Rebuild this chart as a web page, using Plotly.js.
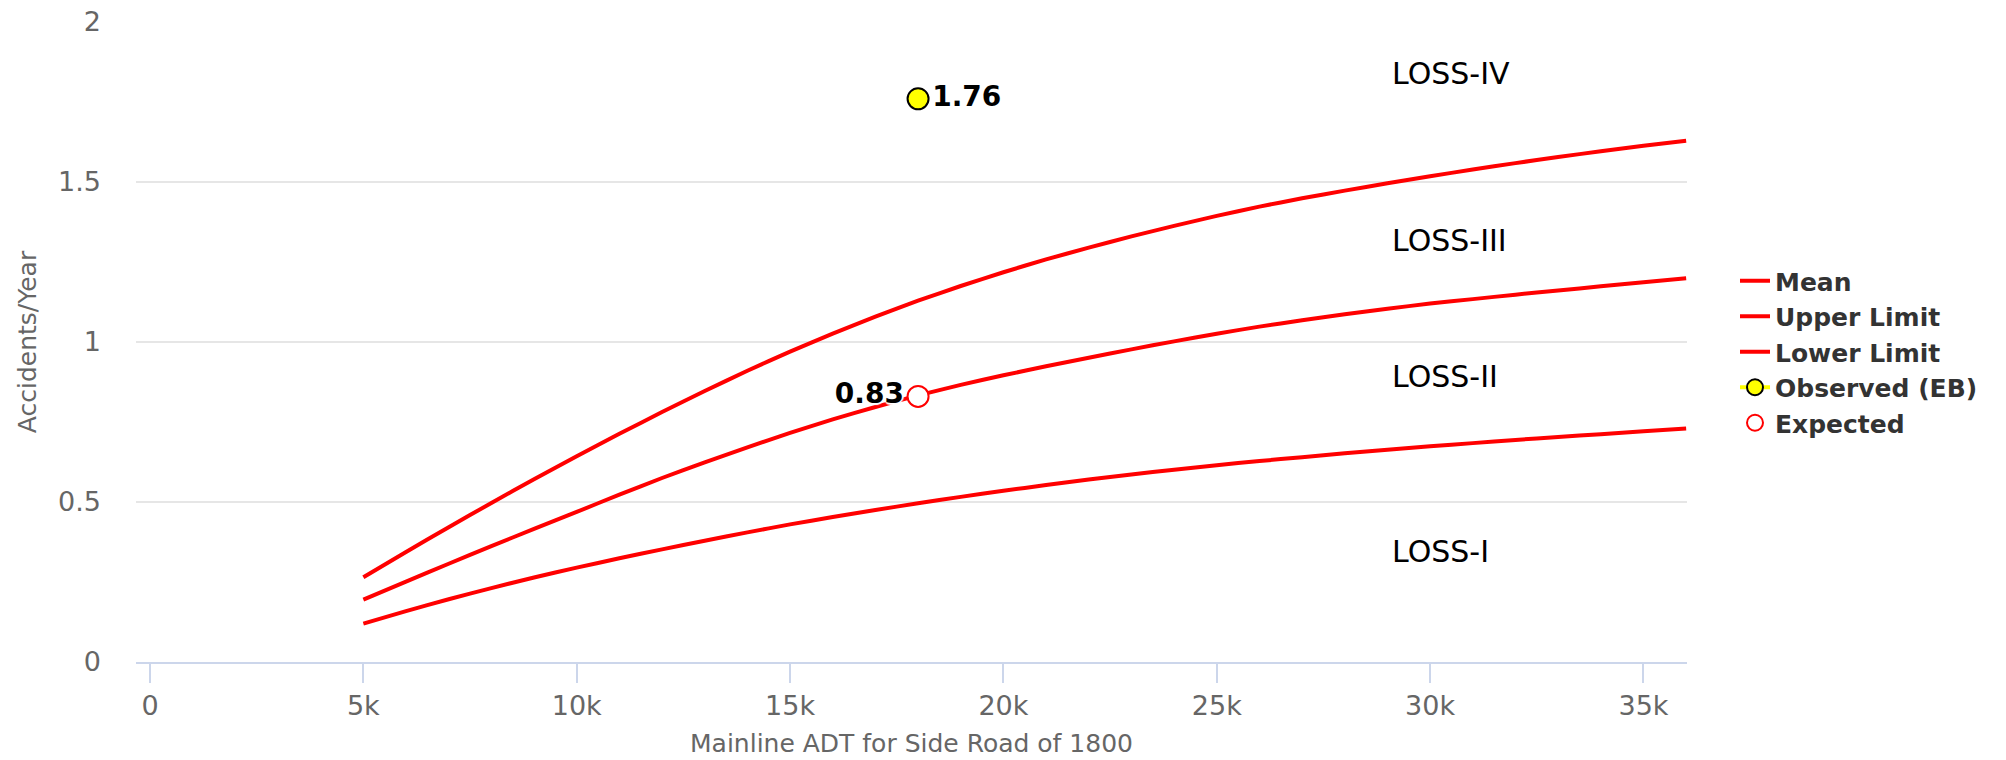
<!DOCTYPE html>
<html>
<head>
<meta charset="utf-8">
<script src="https://cdn.plot.ly/plotly-3.0.1.min.js"></script>
<style>
  html, body { margin: 0; padding: 0; background: #ffffff; }
  #chart { width: 2006px; height: 760px; }
</style>
</head>
<body>
<div id="chart"></div>
<script>
// ---- data ----
const adt = [5000, 6000, 7000, 8000, 9000, 10000, 11000, 12000, 13000, 14000,
             15000, 16000, 17000, 18000, 19000, 20000, 21000, 22000, 23000, 24000,
             25000, 26000, 27000, 28000, 29000, 30000, 31000, 32000, 33000, 34000,
             35000, 36000];
const meanVals = [0.195, 0.251, 0.307, 0.362, 0.416, 0.469, 0.523, 0.575, 0.624, 0.671,
                  0.716, 0.758, 0.797, 0.833, 0.866, 0.896, 0.924, 0.951, 0.977, 1.002,
                  1.026, 1.048, 1.068, 1.087, 1.104, 1.120, 1.134, 1.148, 1.161, 1.174,
                  1.187, 1.199];
const upperVals = [0.265, 0.344, 0.421, 0.497, 0.571, 0.643, 0.713, 0.781, 0.847, 0.910,
                   0.970, 1.026, 1.079, 1.129, 1.175, 1.218, 1.258, 1.295, 1.330, 1.363,
                   1.394, 1.423, 1.449, 1.473, 1.496, 1.518, 1.539, 1.559, 1.578, 1.596,
                   1.613, 1.629];
const lowerVals = [0.120, 0.159, 0.196, 0.231, 0.264, 0.295, 0.324, 0.352, 0.379, 0.405,
                   0.430, 0.453, 0.475, 0.496, 0.516, 0.535, 0.553, 0.570, 0.586, 0.601,
                   0.615, 0.628, 0.640, 0.652, 0.663, 0.674, 0.684, 0.694, 0.703, 0.712,
                   0.721, 0.730];
const observedX = [18000];
const observedY = [1.76];
const observedLabels = ['1.76'];
const expectedX = [18000];
const expectedY = [0.83];
const expectedLabels = ['0.83'];

const seriesNames = ['Mean', 'Upper Limit', 'Lower Limit', 'Observed (EB)', 'Expected'];

const xTickVals = [0, 5000, 10000, 15000, 20000, 25000, 30000, 35000];
const xTickText = ['0', '5k', '10k', '15k', '20k', '25k', '30k', '35k'];
const yTickVals = [0, 0.5, 1, 1.5, 2];
const yTickText = ['0', '0.5', '1', '1.5', '2'];

const zoneLabels = ['LOSS-IV', 'LOSS-III', 'LOSS-II', 'LOSS-I'];
const zoneLabelY = [1.84, 1.317, 0.892, 0.345];
const zoneLabelX = 29050;

const xTitle = 'Mainline ADT for Side Road of 1800';
const yTitle = 'Accidents/Year';

// ---- chart ----
const FONT = 'DejaVu Sans, Verdana, sans-serif';
const RED = '#ff0000';

function curve(y, name) {
  return {
    type: 'scatter', mode: 'lines', x: adt, y: y, name: name,
    line: { color: RED, width: 4, shape: 'spline', smoothing: 0.6 },
    hoverinfo: 'x+y'
  };
}

const labelShadow = '2px 0px 1px #fff, -2px 0px 1px #fff, 0px 2px 1px #fff, 0px -2px 1px #fff';

const traces = [
  curve(meanVals, seriesNames[0]),
  curve(upperVals, seriesNames[1]),
  curve(lowerVals, seriesNames[2]),
  {
    type: 'scatter', mode: 'lines+markers+text', x: observedX, y: observedY,
    name: seriesNames[3],
    text: observedLabels, textposition: 'middle right',
    textfont: { family: FONT, size: 28, color: '#000000', weight: 'bold', shadow: labelShadow },
    line: { color: '#ffff00', width: 4 },
    marker: { symbol: 'circle', size: 21, color: '#ffff00', line: { color: '#000000', width: 2 } }
  },
  {
    type: 'scatter', mode: 'markers+text', x: expectedX, y: expectedY,
    name: seriesNames[4],
    text: expectedLabels, textposition: 'middle left',
    textfont: { family: FONT, size: 28, color: '#000000', weight: 'bold', shadow: labelShadow },
    marker: { symbol: 'circle', size: 21, color: '#ffffff', line: { color: RED, width: 2 } }
  }
];

const annotations = zoneLabels.map((t, i) => ({
  x: zoneLabelX, y: zoneLabelY[i], xref: 'x', yref: 'y',
  text: t, showarrow: false, xanchor: 'left', yanchor: 'middle',
  font: { family: FONT, size: 30, color: '#000000' }
}));

const layout = {
  width: 2006, height: 760,
  paper_bgcolor: '#ffffff', plot_bgcolor: '#ffffff',
  font: { family: FONT, color: '#666666' },
  margin: { l: 136, r: 319, t: 22, b: 98, pad: 0 },
  showlegend: true,
  legend: {
    xref: 'container', yref: 'container',
    x: 1735 / 2006, xanchor: 'left',
    y: 1 - 258 / 760, yanchor: 'top',
    traceorder: 'normal',
    font: { family: FONT, size: 25, color: '#333333', weight: 'bold' },
    bgcolor: 'rgba(0,0,0,0)', borderwidth: 0
  },
  xaxis: {
    range: [-328, 36020],
    tickmode: 'array', tickvals: xTickVals, ticktext: xTickText,
    showgrid: false, zeroline: false,
    showline: true, linecolor: '#ccd6eb', linewidth: 2,
    ticks: 'outside', ticklen: 19, tickwidth: 2, tickcolor: '#ccd6eb',
    tickfont: { family: FONT, size: 27, color: '#666666' },
    title: { text: xTitle, font: { family: FONT, size: 25, color: '#666666' }, standoff: 14 }
  },
  yaxis: {
    range: [0, 2],
    tickmode: 'array', tickvals: yTickVals, ticktext: yTickText,
    showgrid: true, gridcolor: '#e6e6e6', gridwidth: 2,
    zeroline: false, showline: false, ticks: '',
    ticklabelstandoff: 34,
    tickfont: { family: FONT, size: 27, color: '#666666' },
    title: { text: yTitle, font: { family: FONT, size: 25, color: '#666666' }, standoff: 14 }
  },
  annotations: annotations
};

Plotly.newPlot('chart', traces, layout, { displayModeBar: false });
</script>
</body>
</html>
